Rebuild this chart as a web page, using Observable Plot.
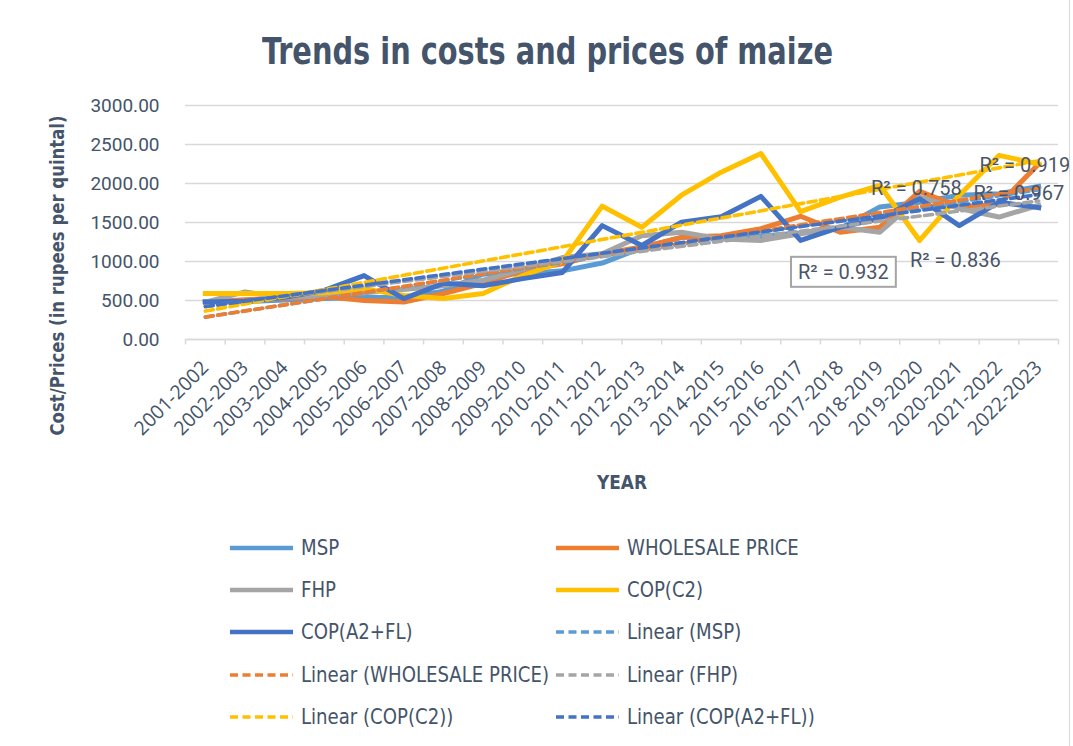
<!DOCTYPE html>
<html><head><meta charset="utf-8">
<script src="https://cdn.jsdelivr.net/npm/d3@7"></script>
<script src="https://cdn.jsdelivr.net/npm/@observablehq/plot@0.6"></script>
<style>
html,body{margin:0;padding:0;background:#fff;}
body{width:1073px;height:746px;overflow:hidden;position:relative;}
#title{position:absolute;top:26px;left:262px;display:inline-block;white-space:nowrap;font-weight:bold;font-size:38px;font-family:"DejaVu Sans",sans-serif;font-stretch:condensed;color:#44546A;line-height:50px;transform-origin:0 50%;}
#chart{position:absolute;top:80px;left:0;}
#legend{position:absolute;left:0;top:0;width:1073px;height:746px;pointer-events:none;}
.item{position:absolute;display:flex;align-items:center;font-family:"DejaVu Sans",sans-serif;font-stretch:condensed;font-size:20.5px;color:#44546A;height:24px;white-space:nowrap;}
.item span{display:inline-block;transform-origin:0 50%;}
.item svg{margin-right:7px;}
#border{position:absolute;left:1069px;top:0;width:1px;height:746px;background:#D9D9D9;}
</style></head>
<body>
<div id="title">Trends in costs and prices of maize</div>
<div id="chart"></div>
<div id="legend"></div>
<div id="border"></div>
<script>
const years = ["2001-2002","2002-2003","2003-2004","2004-2005","2005-2006","2006-2007","2007-2008","2008-2009","2009-2010","2010-2011","2011-2012","2012-2013","2013-2014","2014-2015","2015-2016","2016-2017","2017-2018","2018-2019","2019-2020","2020-2021","2021-2022","2022-2023"];
const msp       = [485,485,505,525,540,540,620,840,840,880,980,1175,1310,1310,1325,1365,1425,1700,1760,1850,1870,1962];
const wholesale = [480,510,530,550,500,480,590,720,885,970,1100,1185,1310,1330,1420,1580,1375,1440,1900,1700,1730,2250];
const fhp       = [480,610,540,560,600,640,690,760,900,1050,1100,1330,1375,1290,1270,1355,1440,1375,1825,1680,1570,1720];
const copC2     = [590,590,590,600,650,565,525,590,820,1000,1710,1440,1850,2145,2385,1640,1825,1975,1270,1850,2360,2250];
const copA2FL   = [480,490,540,630,820,525,720,690,780,860,1460,1205,1505,1575,1835,1270,1440,1550,1805,1460,1760,1690];
const seriesNames = ["MSP","WHOLESALE PRICE","FHP","COP(C2)","COP(A2+FL)"];
const seriesValues = [msp, wholesale, fhp, copC2, copA2FL];
const seriesColors = ["#5B9BD5","#ED7D31","#A5A5A5","#FFC000","#4472C4"];
const yTicks = [0,500,1000,1500,2000,2500,3000];
const r2Texts = ["R² = 0.932","R² = 0.836","R² = 0.758","R² = 0.919","R² = 0.967"];
// annotation anchors (category index, value)
const r2Anchors = [[16.08,860],[18.9,1015],[17.92,1936],[20.65,2231],[20.5,1872]];

const rows = seriesNames.flatMap((s,k) => seriesValues[k].map((v,i) => ({series:s, i, value:v})));
const labels = r2Texts.map((t,k) => ({text:t, i:r2Anchors[k][0], value:r2Anchors[k][1]}));
const boundaries = d3.range(23).map(i => i - 0.5);

const textColor = "#44546A";
const condensed = "'DejaVu Sans Condensed','DejaVu Sans',sans-serif";
const plot = Plot.plot({
  width: 1073, height: 420,
  marginLeft: 185, marginRight: 15, marginTop: 25, marginBottom: 161,
  x: {type: "linear", domain: [-0.5, 21.5]},
  y: {domain: [0, 3000]},
  color: {domain: seriesNames, range: seriesColors},
  style: {background: "transparent", overflow: "visible"},
  marks: [
    Plot.gridY(yTicks, {stroke: "#D9D9D9", strokeOpacity: 1, strokeWidth: 1.5}),
    Plot.axisY(yTicks, {tickSize: 0, tickPadding: 26, tickFormat: d3.format(".2f"), label: null,
      fontSize: 19, fontFamily: "Roboto, sans-serif", fill: textColor}),
    Plot.ruleY([0], {stroke: "#D9D9D9", strokeWidth: 1.5}),
    Plot.ruleX(boundaries, {y1: 0, y2: -70, stroke: "#D9D9D9", strokeWidth: 1.5}),
    Plot.axisX(d3.range(22), {tickFormat: i => years[i], tickRotate: -45, tickSize: 0, tickPadding: 25, label: null,
      fontSize: 19.5, fontFamily: "'Open Sans', sans-serif", fill: textColor}),
    Plot.line(rows, {x: "i", y: "value", z: "series", stroke: "series", strokeWidth: 5, strokeLinejoin: "round", strokeLinecap: "square"}),
    Plot.linearRegressionY(rows, {x: "i", y: "value", z: "series", stroke: "series", ci: 0, strokeWidth: 3.6, strokeDasharray: "8,4.5"}),
    Plot.text(labels, {x: "i", y: "value", text: "text", fontSize: 20, fontFamily: "Roboto, sans-serif", fill: "#4A5568", className: "r2"}),
    Plot.text(["YEAR"], {frameAnchor: "bottom", dy: 149, fontSize: 19, fontWeight: "bold",
      fontFamily: condensed, fill: textColor, className: "xtitle"}),
    Plot.text(["Cost/Prices (in rupees per quintal)"], {frameAnchor: "left", textAnchor: "middle", dx: -128, dy: 53, rotate: -90, fontSize: 19, fontWeight: "bold",
      fontFamily: condensed, fill: textColor, className: "ytitle"})
  ]
});
document.getElementById("chart").appendChild(plot);

// fit the axis titles to the reference lengths
function fitText(sel, len) {
  const t = plot.querySelector(sel + " text");
  if (t) { t.setAttribute("textLength", len); t.setAttribute("lengthAdjust", "spacingAndGlyphs"); }
}
fitText("g.ytitle", 320);
fitText("g.xtitle", 50);

// box behind the first R² label
const r2g = plot.querySelector("g.r2");
if (r2g) {
  const t = r2g.querySelector("text");
  const bb = t.getBBox();
  const rect = document.createElementNS("http://www.w3.org/2000/svg", "rect");
  rect.setAttribute("x", bb.x - 7); rect.setAttribute("y", bb.y - 3);
  rect.setAttribute("width", bb.width + 14); rect.setAttribute("height", bb.height + 6);
  rect.setAttribute("fill", "#fff"); rect.setAttribute("stroke", "#A5A5A5"); rect.setAttribute("stroke-width", 2);
  const tr = t.getAttribute("transform");
  if (tr) rect.setAttribute("transform", tr);
  r2g.insertBefore(rect, t);
}

// title: fit to reference width
const title = document.getElementById("title");
const tw = title.getBoundingClientRect().width;
title.style.transform = "scaleX(" + (571 / tw) + ")";

// legend
const legendItems = [];
seriesNames.forEach((s,k) => legendItems.push({label: s, color: seriesColors[k], dash: null}));
seriesNames.forEach((s,k) => legendItems.push({label: "Linear (" + s + ")", color: seriesColors[k], dash: "8,4.5"}));
const legend = d3.select("#legend");
const spans = [];
legendItems.forEach((it, idx) => {
  const col = idx % 2, row = Math.floor(idx / 2);
  const div = legend.append("div").attr("class", "item")
    .style("left", (col ? 555 : 229) + "px").style("top", (536 + row * 42.2) + "px");
  const sv = div.append("svg").attr("width", 65).attr("height", 10);
  sv.append("line").attr("x1", 1).attr("x2", 64).attr("y1", 5).attr("y2", 5)
    .attr("stroke", it.color).attr("stroke-width", it.dash ? 3.6 : 4.5).attr("stroke-dasharray", it.dash);
  spans.push({label: it.label, sp: div.append("span").text(it.label)});
});
// one common horizontal scale, taken from the longest label's reference width
const longest = spans.find(d => d.label === "Linear (WHOLESALE PRICE)");
const k = 248 / longest.sp.node().getBoundingClientRect().width;
spans.forEach(d => d.sp.style("transform", "scaleX(" + k + ")"));
</script>
</body></html>
